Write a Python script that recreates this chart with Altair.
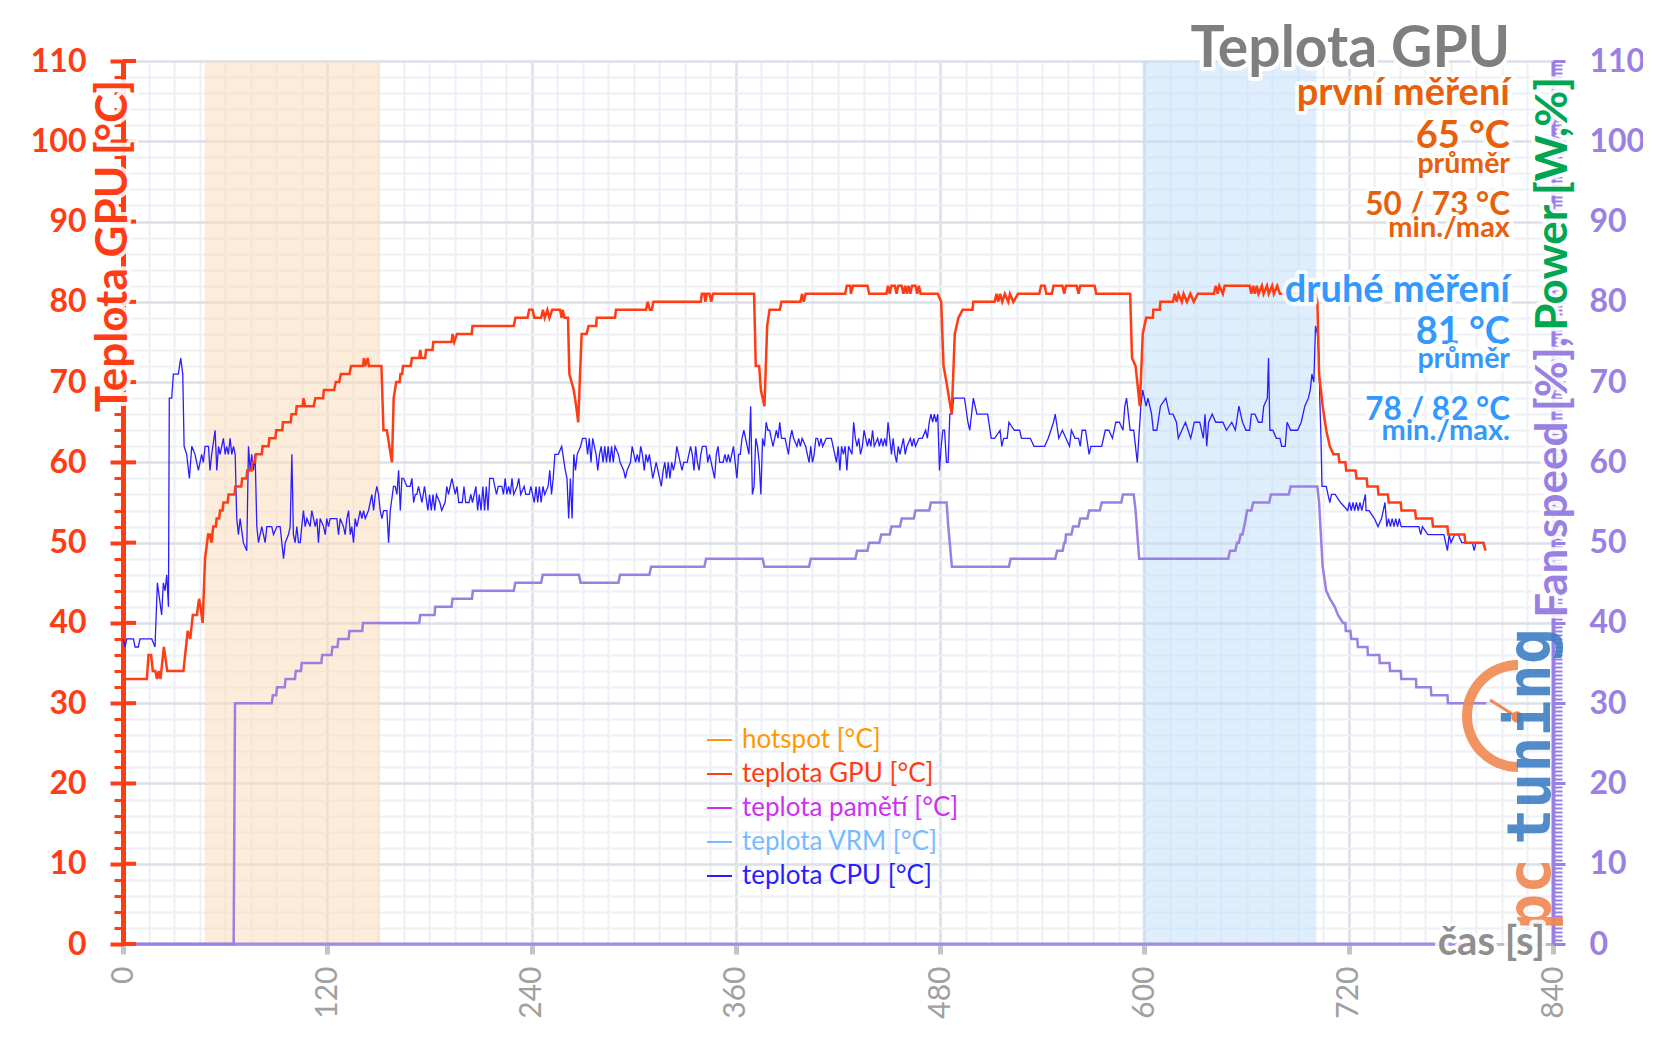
import math
import altair as alt
import pandas as pd

W, H = 1430, 883

# ---------------- data ----------------
GPU = [[0,33],[14,33],[15,36],[16.5,36],[17.5,34],[19,34],[20,33],[21,34],[22,33],[24,37],[26,34],[35.5,34],
 [38,39],[39.5,38],[41,41],[43.5,41],[44,42],[44.7,43],[45.5,42],[46.8,40],[48.2,48],[50,51],[51,51],[52,50],
 [53,52],[54.5,52],[55,53],[56.5,53],[57,54],[58.5,54],[59,55],[61.5,55],[62,56],[65.5,56],[66,57],[69.5,57],
 [70,58],[72.5,58],[73,59],[75.5,59],[76,60],[77.5,60],[78,61],[81.5,61],[82,62],[85.5,62],[86,63],[89.5,63],
 [90,64],[93.5,64],[94,65],[98.5,65],[99,66],[101.5,66],[102,67],[105.5,67],[106,68],[107,67],[112,67],[113,68],
 [117.5,68],[118,69],[124,69],[125,70],[127,70],[128,71],[133,71],[134,72],[141,72],[141.5,73],[142.3,72],
 [143.7,73],[144.5,72],[151.8,72],[153,64],[155,64],[158,60],[159,68],[160.5,70],[162.5,70],[163,71],[164,71],
 [164.5,72],[169,72],[169.7,73],[174,73],[174.6,74],[175.3,73],[177.5,73],[178,74],[181.8,74],[182.3,75],
 [193,75],[193.6,76],[194.6,75],[196.2,76],[204.8,76],[205.3,77],[229.5,77],[230.5,78],[237.6,78],[238.6,79],
 [240.6,79],[241.6,78],[245.6,78],[246.7,79],[247.7,78],[249.3,79],[250.5,78],[252.1,79],[256.7,79],[257.7,78],
 [258.2,79],[259.4,78],[261.4,78],[262.2,71],[264.8,69],[266.2,67],[267.4,65],[269.4,76],[272.3,76],[273.5,77],
 [277.9,77],[278.3,78],[289,78],[289.6,79],[307.2,79],[308.2,80],[309.5,79],[310.6,79],[311.6,80],[339.4,80],
 [340,81],[341.5,81],[342.1,80],[342.9,81],[344.5,81],[345.5,80],[346.5,81],[370.7,81],[371.7,72],[373.7,72],
 [374.7,69],[376.8,67],[378.4,77],[379.8,79],[385.8,79],[386.8,80],[397.9,80],[398.9,81],[399.9,80],[401,81],
 [424.2,81],[425.2,82],[427.2,82],[427.6,81],[428.8,82],[437.3,82],[438.3,81],[448.4,81],[449.4,82],[450.4,81],
 [451.4,82],[453.4,82],[454.4,81],[455.4,82],[457.4,82],[458.4,81],[459.5,82],[460.5,81],[461.5,82],[462.5,81],
 [463.5,82],[465.5,82],[466.5,81],[467.5,82],[468.5,81],[478.6,81],[480.6,80],[482,72],[483.7,70],[486.8,66],
 [488.6,76],[490.7,78],[493.2,79],[499,79],[499.5,80],[512,80],[513.1,81],[514.1,80],[515.2,81],[516.5,80],
 [518,81],[520,80],[521,81],[523,80],[525.7,81],[538.2,81],[539.3,82],[541.4,82],[542.4,81],[545.6,81],
 [546.6,82],[551.8,82],[552.9,81],[553.9,82],[560.2,82],[561.3,81],[562.3,82],[570.7,82],[571.7,81],[591.6,81],
 [592.7,73],[594.8,72],[597.3,67],[599,76],[601,78],[605,78],[605.2,79],[609,79],[609.4,80],[616.8,80],
 [617.8,81],[619,80],[620,81],[622,80],[623,81],[625,80],[627,81],[629,80],[631.4,81],[640.8,81],[641.9,82],
 [643,81],[644,82],[646.1,81],[647.1,82],[661.8,82],[662.8,81],[663.9,82],[664.9,81],[666,82],[667,81],[669,82],
 [670,81],[672,82],[673,81],[675,82],[676,81],[678,82],[679.6,81],[700.5,81],[701.6,80],[702.6,71],[704.7,67],
 [706.8,64],[708.9,62],[711,61],[714,61],[714.5,60],[718,60],[718.5,59],[724,59],[724.6,58],[730.5,58],[731,57],
 [737,57],[737.5,56],[743,56],[743.5,55],[750.5,55],[751,54],[759,54],[759.5,53],[769,53],[769.5,52],[778,52],
 [778.5,51],[788,51],[788.5,50],[799,50],[800.4,49]]

CPU = [[0,38],[1.2,37],[2.2,38],[6.1,38],[7.1,37],[9,37],[10,38],[16.9,38],[18.8,37],[20.2,45],[22.7,41],
 [23.7,45],[24.7,44],[25.7,46],[26.7,42],[27.2,68],[28.6,68],[29.6,71],[32.5,71],[33.9,73],[35.1,71],[35.9,62],
 [37.4,61],[39,58],[40.4,62],[42.3,61],[44.3,59],[46.2,61],[47.2,60],[48.2,62],[50.2,62],[51.1,59],[52.1,61],
 [54.1,64],[55.1,59],[56.1,62],[57,61],[59,63],[60,61],[60.9,62],[61.9,61],[62.9,63],[63.9,61],[64.9,62],
 [65.9,61],[66.8,53],[67.8,51],[68.8,53],[70.7,50],[72.7,49],[73.7,62],[74.7,59],[75.6,61],[76.6,59],[77.6,61],
 [78.6,52],[79.6,50],[81.5,52],[83.5,50],[84.5,52],[87.4,52],[88.4,51],[90.4,52],[92.3,52],[93.3,50],[94.3,48],
 [95.3,50],[97.2,51],[98.2,52],[99.2,61],[100.1,51],[101.1,50],[102.1,52],[103.1,50],[104.1,50],[105,52],
 [106,54],[107,52],[108,53],[109.9,52],[110.9,54],[111.9,53],[112.9,52],[113.9,53],[114.8,50],[115.8,53],
 [117.8,52],[118.8,51],[119.7,53],[120.7,52],[121.7,53],[125.6,53],[126.6,51],[127.6,53],[129.5,52],[130.5,51],
 [131.5,53],[132.5,54],[133.5,51],[134.4,52],[135.4,50],[136.4,53],[137.4,52],[138.4,53],[139.3,54],[140.3,53],
 [141.3,54],[142.3,53],[144.2,54],[145.2,55],[146.2,56],[147.2,54],[148.2,56],[149.1,57],[150.1,56],[151.1,54],
 [152.1,53],[153.1,54],[155,54],[156,50],[157,54],[158.9,57],[159.9,57],[160.9,56],[161.9,59],[162.9,54],
 [163.8,58],[164.8,58],[166.8,57],[168.7,57],[169.7,58],[170.7,55],[171.7,56],[172.6,56],[173.6,57],[174.6,56],
 [175.6,55],[177.1,57],[179.1,54],[180.1,56],[181.1,54],[182.1,56],[183.1,54],[184.1,56],[186.1,55],[187.2,54],
 [189.2,55],[190.2,57],[191.2,56],[193.2,58],[195.2,56],[196.2,57],[197.2,55],[199.3,55],[200.3,57],[201.3,55],
 [203.3,55],[204.3,56],[205.3,55],[207.3,57],[208.3,54],[209.3,56],[210.3,54],[211.4,57],[212.4,54],[213.4,57],
 [214.4,54],[215.4,58],[217.4,58],[219.4,56],[220.4,57],[222.5,57],[223.5,56],[224.5,58],[225.5,56],[226.5,57],
 [227.5,56],[228.5,58],[229.5,56],[231.5,57],[232.5,58],[233.6,56],[235.6,57],[236.6,56],[238.6,56],[239.6,57],
 [241.6,55],[242.6,57],[243.6,55],[244.6,57],[245.6,55],[246.7,57],[247.7,56],[249.7,57],[250.7,59],[251.7,56],
 [252.7,58],[253.7,61],[255.7,61],[257.7,62],[259.8,59],[260.8,58],[261.8,53],[262.8,58],[263.8,53],[264.8,61],
 [265.8,59],[266.8,61],[268.8,62],[269.9,63],[271.9,63],[272.9,61],[273.9,63],[274.9,60],[275.9,63],[277.9,61],
 [278.9,59],[279.9,61],[280.9,62],[282,60],[283,62],[284,60],[285,62],[286,60],[287,62],[288,60],[289,62],
 [291,61],[292,60],[294.1,59],[295.1,58],[296.1,59],[298.1,60],[299.1,62],[301.1,60],[302.1,61],[303.1,60],
 [304.1,62],[305.1,61],[306.2,59],[307.2,61],[308.2,60],[309.2,61],[311.2,58],[312.2,59],[313.2,60],[314.2,59],
 [316.2,57],[317.3,59],[318.3,60],[319.3,58],[320.3,60],[321.3,58],[322.3,60],[323.3,59],[324.3,60],[325.3,62],
 [326.3,61],[327.3,60],[328.4,59],[329.4,60],[331.4,60],[332.4,61],[333.4,62],[334.4,61],[335.4,59],[336.4,62],
 [337.4,60],[338.4,59],[339.4,61],[340.4,62],[342.5,62],[343.5,60],[344.5,61],[345.5,60],[346.5,59],[347.5,58],
 [348.5,61],[349.5,62],[350.5,60],[352.5,60],[353.6,61],[354.6,60],[355.6,61],[356.6,60],[357.6,61],[358.6,62],
 [359.6,60],[360.6,58],[361.6,61],[362.6,61],[363.6,63],[364.7,64],[365.7,63],[366.7,62],[367.7,61],[368.7,67],
 [369.7,56],[370.7,57],[371.7,63],[372.7,62],[373.7,60],[374.7,56],[375.7,63],[376.8,62],[377.8,65],[378.8,64],
 [379.8,64],[380.8,63],[381.8,62],[382.8,63],[383.8,64],[384.8,63],[385.8,65],[386.8,63],[388.9,63],[389.9,62],
 [390.9,61],[391.9,63],[392.9,64],[393.9,63],[395.9,62],[396.9,63],[397.9,62],[398.9,63],[401,62],[402,61],
 [403,60],[404,62],[405,60],[406,61],[407,63],[408,63],[409,62],[410,63],[411,62],[413.1,63],[416.1,63],
 [417.1,62],[418.1,61],[419.1,60],[420.1,62],[421.1,59],[422.1,62],[423.2,61],[424.2,62],[425.2,59],[426.2,62],
 [428.2,61],[429.2,65],[430.2,63],[431.2,62],[432.2,63],[433.2,61],[434.3,62],[435.3,64],[436.3,63],[437.3,62],
 [438.3,63],[439.3,62],[440.3,64],[441.3,62],[443.3,63],[444.3,62],[445.4,63],[446.4,62],[447.4,63],[448.4,62],
 [449.4,65],[450.4,63],[451.4,61],[452.4,63],[453.4,61],[454.4,60],[455.4,62],[456.4,61],[457.4,62],[458.4,63],
 [459.5,61],[460.5,62],[462.5,63],[463.5,62],[464.5,63],[465.5,62],[467.5,63],[469.5,63],[471.5,64],[472.5,63],
 [473.6,65],[474.6,66],[475.6,65],[476.6,66],[477.6,65],[478.6,66],[479.6,59],[480.6,62],[481.6,64],[482.6,64],
 [483.7,60],[484.7,60],[485.7,66],[486.9,66],[488,68],[490.1,68],[492.2,68],[494.3,68],[496.3,65],[497.4,64],
 [499.5,68],[501.6,66],[503.7,66],[505.8,66],[507.9,66],[510,63],[512,63],[515.2,64],[516.2,62],[517.3,63],
 [519.4,63],[520.4,65],[523.6,64],[526.7,64],[527.8,63],[530.9,63],[533,63],[535.1,62],[537.2,62],[539.3,62],
 [541.4,62],[543.5,63],[546.6,65],[547.6,66],[549.7,63],[551.8,64],[553.9,63],[556,62],[557.1,64],[559.2,63],
 [561.3,63],[562.3,62],[563.4,64],[565.4,64],[567.5,61],[568.6,62],[574.9,62],[577,64],[579.1,64],[581.2,63],
 [583.2,65],[585.3,65],[587.4,64],[588.5,67],[589.5,68],[591.6,64],[593.7,64],[595.8,60],[597.9,67],[599,69],
 [601,67],[602.1,68],[604.2,66],[605.2,64],[607.3,64],[609.4,67],[612.6,68],[614.7,66],[616.8,66],[618.8,65],
 [619.9,63],[622,64],[624.1,65],[627.2,63],[629.3,65],[632.5,65],[634.6,63],[635.6,66],[636.6,62],[637.7,65],
 [639.8,66],[641.9,65],[644,65],[646.1,65],[648.2,64],[651.3,65],[653.4,64],[655.5,67],[657.6,65],[659.7,64],
 [661.8,64],[662.8,66],[664.9,66],[667,65],[669.1,65],[670.1,67],[672.2,68],[672.9,73],[673.7,64],[675.4,64],
 [677.5,63],[679.6,63],[680.6,62],[682.7,62],[683.8,65],[685.9,64],[687.9,64],[690,64],[692.1,65],[694.2,67],
 [696.3,68],[697.4,69],[698.4,71],[699.5,70],[700.5,77],[701.6,76],[702.6,73],[703,68],[703.7,63],[704.3,57],
 [706.8,57],[707.8,56],[708.9,55],[709.9,56],[712,56],[715.2,55],[719.4,54],[720.4,55],[721.5,54],[722.5,55],
 [723.5,54],[724.5,55],[725.6,54],[726.6,55],[727.7,54],[728.7,55],[729.8,56],[730.2,54],[731.9,54],[735.1,53],
 [737.2,52],[739.3,53],[741.3,55],[742.4,52],[743.4,53],[744.5,52],[745.5,53],[746.6,52],[747.6,53],[748.7,52],
 [749.7,53],[750.8,52],[761.2,52],[762.3,51],[763.3,52],[766.5,51],[775.9,51],[778,49],[779,51],[780.1,50],
 [782.2,51],[784.3,51],[786.4,50],[792.6,50],[793.7,49],[794.7,50],[800,50]]

FAN = [[0,0],[65,0],[65.8,30],[87.4,30],[88,31],[90,31],[90.5,32],[95,32],[95.5,33],[101,33],[101.5,34],
 [104.5,34],[105,35],[116.5,35],[117,36],[122.5,36],[123,37],[126,37],[126.5,38],[132.5,38],[133,39],[140.5,39],
 [141,40],[174,40],[174.6,41],[183,41],[183.4,42],[193,42],[193.5,43],[205,43],[205.5,44],[229.5,44],[230.5,45],
 [245.6,45],[246.6,46],[267.8,46],[268.8,45],[291,45],[292,46],[309.2,46],[310.2,47],[341.5,47],[342.5,48],
 [375.7,48],[376.8,47],[403,47],[404,48],[430.2,48],[431.2,49],[437.3,49],[438.3,50],[444.3,50],[445.4,51],
 [450.4,51],[451.4,52],[456.4,52],[457.4,53],[464.5,53],[465.5,54],[473.6,54],[474.6,55],[483.8,55],[484.8,52],
 [486.9,47],[520.4,47],[521.4,48],[547.6,48],[548.7,49],[552,49],[552.9,50],[553.5,50],[553.9,51],[557.1,51],
 [558.1,52],[561.3,52],[562.3,53],[566.5,53],[567.5,54],[573.8,54],[574.9,55],[586.4,55],[587.4,56],[593.7,56],
 [594.8,54],[596.9,48],[649.2,48],[650.3,49],[653.4,49],[654.4,50],[655.5,50],[656.5,51],[657.6,51],[658.6,52],
 [659.5,53],[660.3,54],[662.8,54],[663.9,55],[673.3,55],[674.3,56],[684.8,56],[685.9,57],[701.6,57],[702.6,55],
 [704.7,47],[706.8,44],[709,43],[711.8,42],[713.7,41],[716.7,40],[718,40],[718.3,39],[721,39],[721.5,38],
 [725,38],[725.4,37],[731,37],[731.3,36],[738,36],[738.2,35],[744,35],[744.3,34],[750.6,34],[750.9,33],
 [759.5,33],[759.7,32],[768.2,32],[768.5,31],[778,31],[778.3,30],[800.8,30]]

ZERO = [[0, 0], [800, 0]]
BAND_FIRST = [48, 151]
BAND_SECOND = [599, 701]

SERIES = ["hotspot [°C]", "teplota GPU [°C]", "teplota pamětí [°C]", "teplota VRM [°C]", "teplota CPU [°C]"]
SERIES_COLORS = ["#FF9900", "#FF3C14", "#CC33EE", "#77BBFF", "#2A1EFF"]

X_MINOR = list(range(0, 841, 15))
X_MAJOR = list(range(0, 841, 120))
Y_MINOR = list(range(0, 111, 2))
Y_MAJOR = list(range(0, 111, 10))
Y_RIGHT_MINOR = [i / 2 for i in range(0, 221)]

# ---------------- styles ----------------
RED = "#FF3C14"
PURPLE = "#9A80E2"
GREEN = "#00A651"
ORANGE_T = "#E8600C"
BLUE_T = "#3399FF"
FONT = "Lato"
GRID_MINOR = "#EEF0F5"
GRID_MAJOR = "#DCE0E9"

xs = alt.Scale(domain=[0, 840], nice=False, zero=False)
ys = alt.Scale(domain=[0, 110], nice=False, zero=False)

def df(pairs, series=None):
    d = pd.DataFrame(pairs, columns=["t", "v"])
    if series is not None:
        d["s"] = series
    return d

ONE = pd.DataFrame({"k": [0]})

band1 = alt.Chart(pd.DataFrame({"a": [BAND_FIRST[0]], "b": [BAND_FIRST[1]]})).mark_rect(
    color="#FBDCBC", opacity=0.55).encode(x=alt.X("a:Q", scale=xs, axis=None), x2="b:Q")
band2 = alt.Chart(pd.DataFrame({"a": [BAND_SECOND[0]], "b": [BAND_SECOND[1]]})).mark_rect(
    color="#BDDDF9", opacity=0.5).encode(x=alt.X("a:Q", scale=xs, axis=None), x2="b:Q")

zero = alt.Chart(df(ZERO)).mark_line(color="#A08CE6", strokeWidth=3).encode(
    x=alt.X("t:Q", scale=xs, axis=alt.Axis(orient="bottom", values=X_MINOR, grid=True, gridColor=GRID_MINOR,
            gridWidth=2, labels=False, ticks=False, domain=False, title=None)),
    y=alt.Y("v:Q", scale=ys, axis=alt.Axis(orient="left", values=Y_MINOR, grid=True, gridColor=GRID_MINOR,
            gridWidth=2, labels=False, ticks=True, tickColor=RED, tickSize=9, tickWidth=3, domain=False, title=None)))

fan = alt.Chart(df(FAN)).mark_line(color=PURPLE, strokeWidth=2.5).encode(
    x=alt.X("t:Q", scale=xs, axis=None),
    y=alt.Y("v:Q", scale=ys, axis=alt.Axis(orient="right", values=Y_MAJOR, grid=False, labels=True,
            labelColor=PURPLE, labelFont=FONT, labelFontSize=32, labelFontWeight="bold", labelPadding=24,
            labelOverlap=False, tickColor=PURPLE, tickSize=12, tickWidth=3, domain=True, domainColor=PURPLE,
            domainWidth=4, title=None)))

color = alt.Color("s:N", scale=alt.Scale(domain=SERIES, range=SERIES_COLORS), legend=None)

cpu = alt.Chart(df(CPU, SERIES[4])).mark_line(strokeWidth=1.3).encode(
    x=alt.X("t:Q", scale=xs, axis=None),
    y=alt.Y("v:Q", scale=ys, axis=alt.Axis(orient="right", values=Y_RIGHT_MINOR, grid=False, labels=False,
            ticks=True, tickColor=PURPLE, tickSize=9, tickWidth=2, domain=False, title=None)),
    color=color)

gpu = alt.Chart(df(GPU, SERIES[1])).mark_line(strokeWidth=2.5).encode(
    x=alt.X("t:Q", scale=xs, axis=alt.Axis(orient="bottom", values=X_MAJOR, grid=True, gridColor=GRID_MAJOR,
            gridWidth=2.5, labelAngle=270, labelAlign="right", labelBaseline="middle", labelFont=FONT,
            labelFontSize=30, labelColor="#A0A0A0", labelPadding=12, labelFlush=False, labelOverlap=False,
            tickColor="#C4C4C4", tickSize=10, tickWidth=5, domainColor="#BDBDBD", domainWidth=3, title=None)),
    y=alt.Y("v:Q", scale=ys, axis=alt.Axis(orient="left", values=Y_MAJOR, grid=True, gridColor=GRID_MAJOR,
            gridWidth=2.5, labelColor=RED, labelFont=FONT, labelFontSize=32, labelFontWeight="bold",
            labelPadding=24, labelOverlap=False, tickColor=RED, tickSize=13, tickWidth=4, domainColor=RED,
            domainWidth=5, title=None)),
    color=color)

ticks_in = alt.Chart(pd.DataFrame({"v": Y_MAJOR})).mark_rule(color=RED, strokeWidth=4).encode(
    y=alt.Y("v:Q", scale=ys, axis=None), x=alt.value(0), x2=alt.value(13))


def txt(text, x, y, size, color, align="right", angle=0, weight="bold", baseline="alphabetic",
        halo=True, opacity=1.0, font=FONT):
    base = alt.Chart(ONE).encode(x=alt.value(x), y=alt.value(y))
    kw = dict(text=text, fontSize=size, font=font, fontWeight=weight, align=align, baseline=baseline, angle=angle)
    out = []
    if halo:
        out.append(base.mark_text(color="white", stroke="white", strokeWidth=8, strokeJoin="round",
                                  strokeOpacity=0.9, **kw))
    out.append(base.mark_text(color=color, opacity=opacity, **kw))
    return out

# legend (drawn as marks: short line + coloured label per series)
LEG_X, LEG_Y, LEG_STEP = 584, 679, 34
legend = []
for i, (name, col) in enumerate(zip(SERIES, SERIES_COLORS)):
    yy = LEG_Y + i * LEG_STEP
    legend.append(alt.Chart(ONE).mark_rule(color=col, strokeWidth=2).encode(
        x=alt.value(LEG_X), x2=alt.value(LEG_X + 25), y=alt.value(yy)))
    legend += txt(name, LEG_X + 35, yy, 26, col, align="left", weight="normal", baseline="middle", halo=False)

texts = []
texts += txt("Teplota GPU [°C]", -9, 19, 44, RED, angle=270, baseline="middle")
texts += txt("Power [W,%]", 1431, 16, 44, GREEN, angle=270, baseline="middle")
texts += txt("Fan speed [%],", 1431, 276, 44, PURPLE, angle=270, baseline="middle")
texts += txt("Teplota GPU", 1387, 6, 57, "#7F7F7F")
texts += txt("první měření", 1387, 44, 38, ORANGE_T)
texts += txt("65 °C", 1387, 87, 38, ORANGE_T)
texts += txt("průměr", 1387, 112, 28.5, ORANGE_T)
texts += txt("50 / 73 °C", 1387, 154, 31.5, ORANGE_T)
texts += txt("min./max", 1387, 176, 29, ORANGE_T)
texts += txt("druhé měření", 1387, 241, 38, BLUE_T)
texts += txt("81 °C", 1387, 283, 38, BLUE_T)
texts += txt("průměr", 1387, 307, 28.5, BLUE_T)
texts += txt("78 / 82 °C", 1387, 359, 31.5, BLUE_T)
texts += txt("min./max.", 1387, 379, 29, BLUE_T)
texts += txt("čas [s]", 1422, 894, 40, "#8F8F8F")

# logo (pc tuning)
LOGO_O = "#F08850"
LOGO_B = "#3F7FC4"
logo = []
logo.append(alt.Chart(ONE).mark_arc(radius=46, radius2=56, theta=math.pi, theta2=2 * math.pi,
                                    color=LOGO_O, opacity=0.9).encode(x=alt.value(1395), y=alt.value(655)))
logo.append(alt.Chart(ONE).mark_rule(color=LOGO_O, strokeWidth=3).encode(
    x=alt.value(1394), y=alt.value(656), x2=alt.value(1367), y2=alt.value(639)))
logo.append(alt.Chart(ONE).mark_point(filled=True, size=130, color=LOGO_O, opacity=1).encode(
    x=alt.value(1394), y=alt.value(656)))
logo += txt("tuning", 1427, 567, 60, LOGO_B, align="right", angle=270, halo=False, opacity=0.9,
            font="DejaVu Sans Mono")
logo += txt("pc", 1427, 869, 60, LOGO_O, align="left", angle=270, halo=False, opacity=0.9,
            font="DejaVu Sans Mono")

layers = [band1, band2, zero, fan, cpu, gpu, ticks_in] + legend + logo + texts

chart = alt.layer(*layers).resolve_scale(x="independent", y="independent").resolve_axis(
    x="independent", y="independent").properties(
    width=W, height=H,
    autosize=alt.AutoSizeParams(type="none"),
    padding={"left": 115, "top": 53, "right": 90, "bottom": 85},
    background="white",
).configure_view(stroke=None)

chart.save("out.html", embed_options={"renderer": "svg", "actions": False})
